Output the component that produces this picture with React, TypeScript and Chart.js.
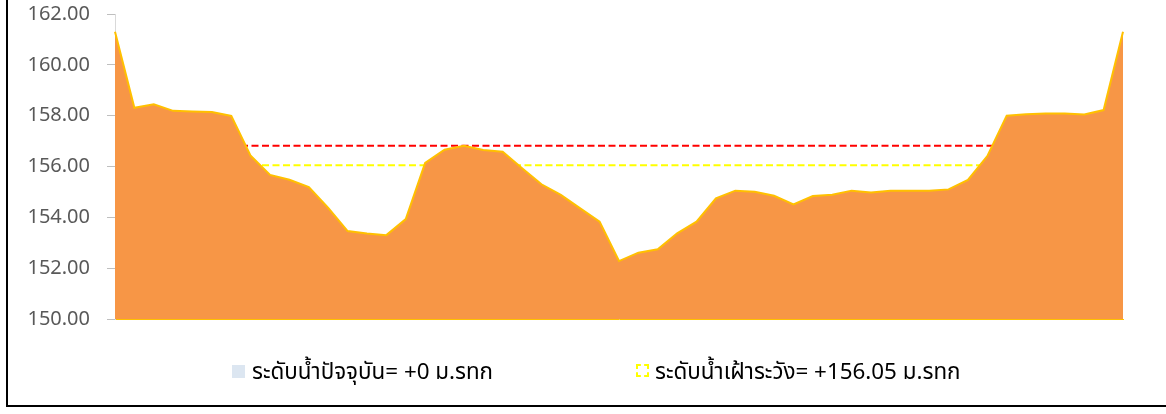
import React, { useEffect, useRef } from "react";
import { Chart, registerables } from "chart.js";

Chart.register(...registerables);

const categories = [
  "1", "2", "3", "4", "5", "6", "7", "8", "9", "10",
  "11", "12", "13", "14", "15", "16", "17", "18", "19", "20",
  "21", "22", "23", "24", "25", "26", "27", "28", "29", "30",
  "31", "32", "33", "34", "35", "36", "37", "38", "39", "40",
  "41", "42", "43", "44", "45", "46", "47", "48", "49", "50",
  "51", "52", "53",
];

const groundLevels = [
  161.3, 158.31, 158.45, 158.19, 158.16, 158.14, 157.99, 156.42, 155.67, 155.48,
  155.19, 154.37, 153.46, 153.36, 153.3, 153.93, 156.14, 156.66, 156.82, 156.65,
  156.58, 155.93, 155.3, 154.88, 154.35, 153.83, 152.28, 152.61, 152.74, 153.37,
  153.83, 154.75, 155.05, 155.01, 154.85, 154.51, 154.84, 154.89, 155.05, 154.98,
  155.05, 155.05, 155.05, 155.1, 155.47, 156.41, 158.0, 158.06, 158.09, 158.09,
  158.05, 158.22, 161.3,
];

const watchLevel = 156.05;
const alertLevel = 156.82;

const yMin = 150;
const yMax = 162;
const yStep = 2;

const currentLabel = "ระดับน้ำปัจจุบัน= +0 ม.รทก";
const watchLabel = "ระดับน้ำเฝ้าระวัง= +156.05 ม.รทก";

const FONT = "'Noto Sans', 'Noto Sans Thai', 'DejaVu Sans', sans-serif";

export default function App() {
  const canvasRef = useRef<HTMLCanvasElement | null>(null);

  useEffect(() => {
    if (!canvasRef.current) return;
    const first = categories[0];
    const last = categories[categories.length - 1];
    const chart = new Chart(canvasRef.current, {
      type: "line",
      data: {
        labels: categories,
        datasets: [
          {
            label: currentLabel,
            data: groundLevels,
            borderColor: "#ffc000",
            borderWidth: 2,
            backgroundColor: "#f79646",
            fill: "start",
            pointRadius: 0,
            tension: 0,
            order: 0,
          },
          {
            label: watchLabel,
            data: [
              { x: first, y: watchLevel },
              { x: last, y: watchLevel },
            ] as any,
            borderColor: "#ffff00",
            borderWidth: 2,
            borderDash: [7, 3.5],
            pointRadius: 0,
            fill: false,
            order: 1,
          },
          {
            label: "alert",
            data: [
              { x: first, y: alertLevel },
              { x: last, y: alertLevel },
            ] as any,
            borderColor: "#ff0000",
            borderWidth: 2,
            borderDash: [7, 3.5],
            pointRadius: 0,
            fill: false,
            order: 2,
          },
        ],
      },
      options: {
        responsive: false,
        animation: false,
        layout: { padding: { left: 0, right: 43, top: 14, bottom: 21 } },
        plugins: {
          legend: { display: false },
          tooltip: { enabled: false },
        },
        scales: {
          x: {
            type: "category",
            display: true,
            offset: false,
            afterFit: (scale: any) => {
              scale.height = 0;
              scale.paddingLeft = 0;
              scale.paddingRight = 0;
            },
            ticks: { display: false },
            grid: { display: false },
            border: { display: true, color: "#ffc000", width: 1 },
          },
          y: {
            min: yMin,
            max: yMax,
            afterFit: (scale: any) => {
              scale.width = 115;
              scale.paddingTop = 0;
              scale.paddingBottom = 0;
            },
            ticks: {
              stepSize: yStep,
              padding: 17,
              color: "#595959",
              font: { family: FONT, size: 20 },
              callback: (v: any) => Number(v).toFixed(2),
            },
            grid: {
              drawOnChartArea: false,
              drawTicks: true,
              tickLength: 8,
              color: "#bfbfbf",
            },
            border: { display: true, color: "#d9d9d9", width: 1 },
          },
        },
      },
    });
    return () => chart.destroy();
  }, []);

  const textStyle: React.CSSProperties = {
    position: "absolute",
    top: 359,
    fontFamily: FONT,
    fontSize: 22.4,
    lineHeight: "24px",
    color: "#000000",
    whiteSpace: "nowrap",
  };

  return (
    <div
      style={{
        position: "absolute",
        left: 0,
        top: 0,
        width: 1166,
        height: 414,
        overflow: "hidden",
        background: "#ffffff",
      }}
    >
      <canvas
        ref={canvasRef}
        width={1166}
        height={340}
        style={{ position: "absolute", left: 0, top: 0, width: 1166, height: 340 }}
      />
      <div
        style={{
          position: "absolute",
          left: 232,
          top: 365,
          width: 13,
          height: 13,
          background: "#dce6f1",
        }}
      />
      <div style={{ ...textStyle, left: 252 }}>{currentLabel}</div>
      <div
        style={{
          position: "absolute",
          left: 636,
          top: 364,
          width: 13,
          height: 13,
          boxSizing: "border-box",
          border: "2px dashed #ffff00",
        }}
      />
      <div style={{ ...textStyle, left: 655 }}>{watchLabel}</div>
      <div
        style={{
          position: "absolute",
          left: 6,
          top: -10,
          width: 1300,
          height: 417,
          boxSizing: "border-box",
          border: "2px solid #000000",
        }}
      />
    </div>
  );
}
